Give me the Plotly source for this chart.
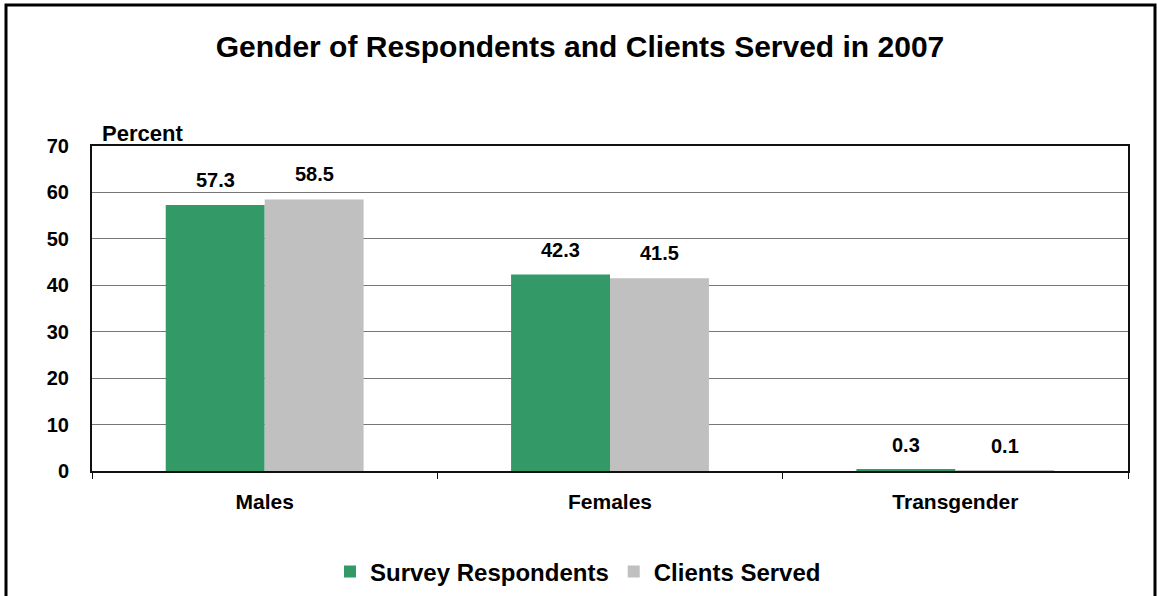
import plotly.graph_objects as go

# Gender breakdown, percent
categories = ["Males", "Females", "Transgender"]
survey_respondents = [57.3, 42.3, 0.3]
clients_served = [58.5, 41.5, 0.1]
y_ticks = [0, 10, 20, 30, 40, 50, 60, 70]

GREEN = "#339966"
GRAY = "#C0C0C0"
FONT = "Liberation Sans, Arial, sans-serif"

W, H = 1157, 596
ML, MR, MT, MB = 92, 29, 146, 125
BARGAP = 0.427

fig = go.Figure()
fig.add_trace(go.Bar(name="Survey Respondents", x=categories, y=survey_respondents,
                     marker=dict(color=GREEN, line=dict(width=0))))
fig.add_trace(go.Bar(name="Clients Served", x=categories, y=clients_served,
                     marker=dict(color=GRAY, line=dict(width=0))))

# value labels above each bar
plot_w = W - ML - MR
plot_h = H - MT - MB
bar_w = plot_w / len(categories) * (1 - BARGAP) / 2
annotations = []
for series, dx in ((survey_respondents, -bar_w / 2), (clients_served, bar_w / 2)):
    for cat, val in zip(categories, series):
        annotations.append(dict(
            x=cat, y=val, xref="x", yref="y", text=f"{val:.1f}", showarrow=False,
            xshift=dx, yshift=25, yanchor="middle", xanchor="center",
            font=dict(family=FONT, size=20, color="black", weight="bold")))

# axis caption
annotations.append(dict(
    x=(100 - ML) / plot_w, y=(H - MB - 133) / plot_h, xref="paper", yref="paper",
    text="Percent", showarrow=False, xanchor="left", yanchor="middle",
    font=dict(family=FONT, size=22, color="black", weight="bold")))

fig.update_layout(
    width=W, height=H,
    margin=dict(l=ML, r=MR, t=MT, b=MB, pad=0, autoexpand=False),
    paper_bgcolor="white", plot_bgcolor="white",
    barmode="group", bargap=BARGAP, bargroupgap=0,
    title=dict(text="Gender of Respondents and Clients Served in 2007",
               x=580 / W, xanchor="center", y=1 - 46 / H, yanchor="middle",
               xref="container", yref="container",
               font=dict(family=FONT, size=30, color="black", weight="bold")),
    legend=dict(orientation="h", x=(578 - ML) / plot_w, xanchor="center",
                y=(H - MB - 572) / plot_h, yanchor="middle",
                font=dict(family=FONT, size=24, color="black", weight="bold"),
                bgcolor="rgba(0,0,0,0)", itemwidth=30, tracegroupgap=0),
    annotations=annotations,
    shapes=[dict(type="rect", xref="paper", yref="paper",
                 x0=(6 - ML) / plot_w, x1=(1155 - ML) / plot_w,
                 y0=(H - MB - 640) / plot_h, y1=(H - MB - 5) / plot_h,
                 line=dict(color="black", width=3), fillcolor="rgba(0,0,0,0)",
                 layer="below")],
)

fig.update_xaxes(
    type="category", showline=True, mirror=True, linecolor="#111111", linewidth=2,
    ticks="outside", tickson="boundaries", ticklen=6, tickcolor="#111111", tickwidth=1,
    ticklabelstandoff=11, showgrid=False,
    tickfont=dict(family=FONT, size=21, color="black", weight="bold"))

fig.update_yaxes(
    range=[0, 70], tickvals=y_ticks, showline=True, mirror=True,
    linecolor="#111111", linewidth=2, ticks="", ticklabelstandoff=17,
    showgrid=True, gridcolor="#777777", gridwidth=1, zeroline=False,
    tickfont=dict(family=FONT, size=20, color="black", weight="bold"))

fig.write_html("out.html")
